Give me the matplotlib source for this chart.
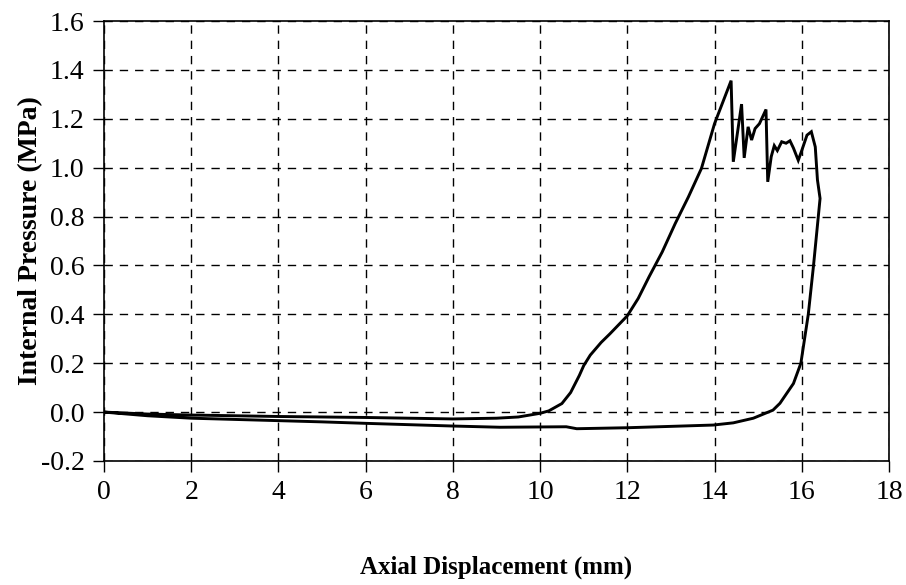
import numpy as np
import matplotlib.pyplot as plt

# loading branch (pressure rises, then collapses with oscillation)
load_x = [0, 1, 2, 3, 4, 5, 6, 7, 8, 9, 9.5, 10, 10.2, 10.5, 10.7, 10.9, 11.0,
          11.15, 11.4, 11.6, 12.0, 12.25, 12.5, 12.8, 13.1, 13.4, 13.7, 14.0,
          14.38, 14.43, 14.62, 14.68, 14.77, 14.85, 14.93, 15.03, 15.18, 15.22,
          15.30, 15.37, 15.44, 15.54, 15.64, 15.73, 15.81, 15.92, 16.0, 16.12,
          16.22, 16.31, 16.36, 16.42]
load_p = [0, -0.008, -0.012, -0.015, -0.018, -0.02, -0.022, -0.025, -0.028,
          -0.025, -0.02, -0.005, 0.005, 0.035, 0.08, 0.15, 0.19, 0.233, 0.285,
          0.32, 0.394, 0.465, 0.554, 0.655, 0.772, 0.88, 0.997, 1.18, 1.356,
          1.024, 1.26, 1.04, 1.167, 1.113, 1.16, 1.18, 1.238, 0.942, 1.045,
          1.09, 1.07, 1.106, 1.10, 1.11, 1.08, 1.03, 1.07, 1.133, 1.147, 1.085,
          0.95, 0.874]

# unloading branch back to the origin
unload_x = [16.42, 16.27, 16.15, 15.98, 15.81, 15.5, 15.34, 14.89, 14.43, 13.97,
            12.0, 10.84, 10.6, 9.08, 8, 6, 5, 4, 3, 2, 1, 0]
unload_p = [0.874, 0.60, 0.40, 0.20, 0.117, 0.036, 0.008, -0.025, -0.044,
            -0.053, -0.064, -0.068, -0.06, -0.062, -0.057, -0.046, -0.04,
            -0.035, -0.03, -0.025, -0.015, 0]

x_ticks = np.arange(0, 19, 2)
y_ticks = np.arange(-0.2, 1.61, 0.2)

plt.rcParams['font.family'] = 'Liberation Serif'

fig = plt.figure(figsize=(9.06, 5.85), dpi=100)
ax = fig.add_axes([0.1148, 0.2120, 0.8664, 0.7521])

ax.plot(load_x + unload_x, load_p + unload_p, color='black', lw=2.1,
        solid_joinstyle='miter')

ax.set_xlim(0, 18)
ax.set_ylim(-0.2, 1.6)
ax.set_xticks(x_ticks)
ax.set_yticks(y_ticks)
ax.set_yticklabels([f'{v:.1f}' for v in y_ticks])
ax.tick_params(direction='out', length=8, width=1, labelsize=20, pad=6)

ax.grid(True, color='black', linestyle=(0, (6, 5)), linewidth=1)
for s in ax.spines.values():
    s.set_linewidth(1.2)

ax.set_xlabel('Axial Displacement (mm)', fontsize=18, fontweight='bold',
              labelpad=36)
ax.set_ylabel('Internal Pressure (MPa)', fontsize=20, fontweight='bold')
ax.yaxis.set_label_coords(-0.078, 0.5)

fig.savefig('out.png', dpi=100)
